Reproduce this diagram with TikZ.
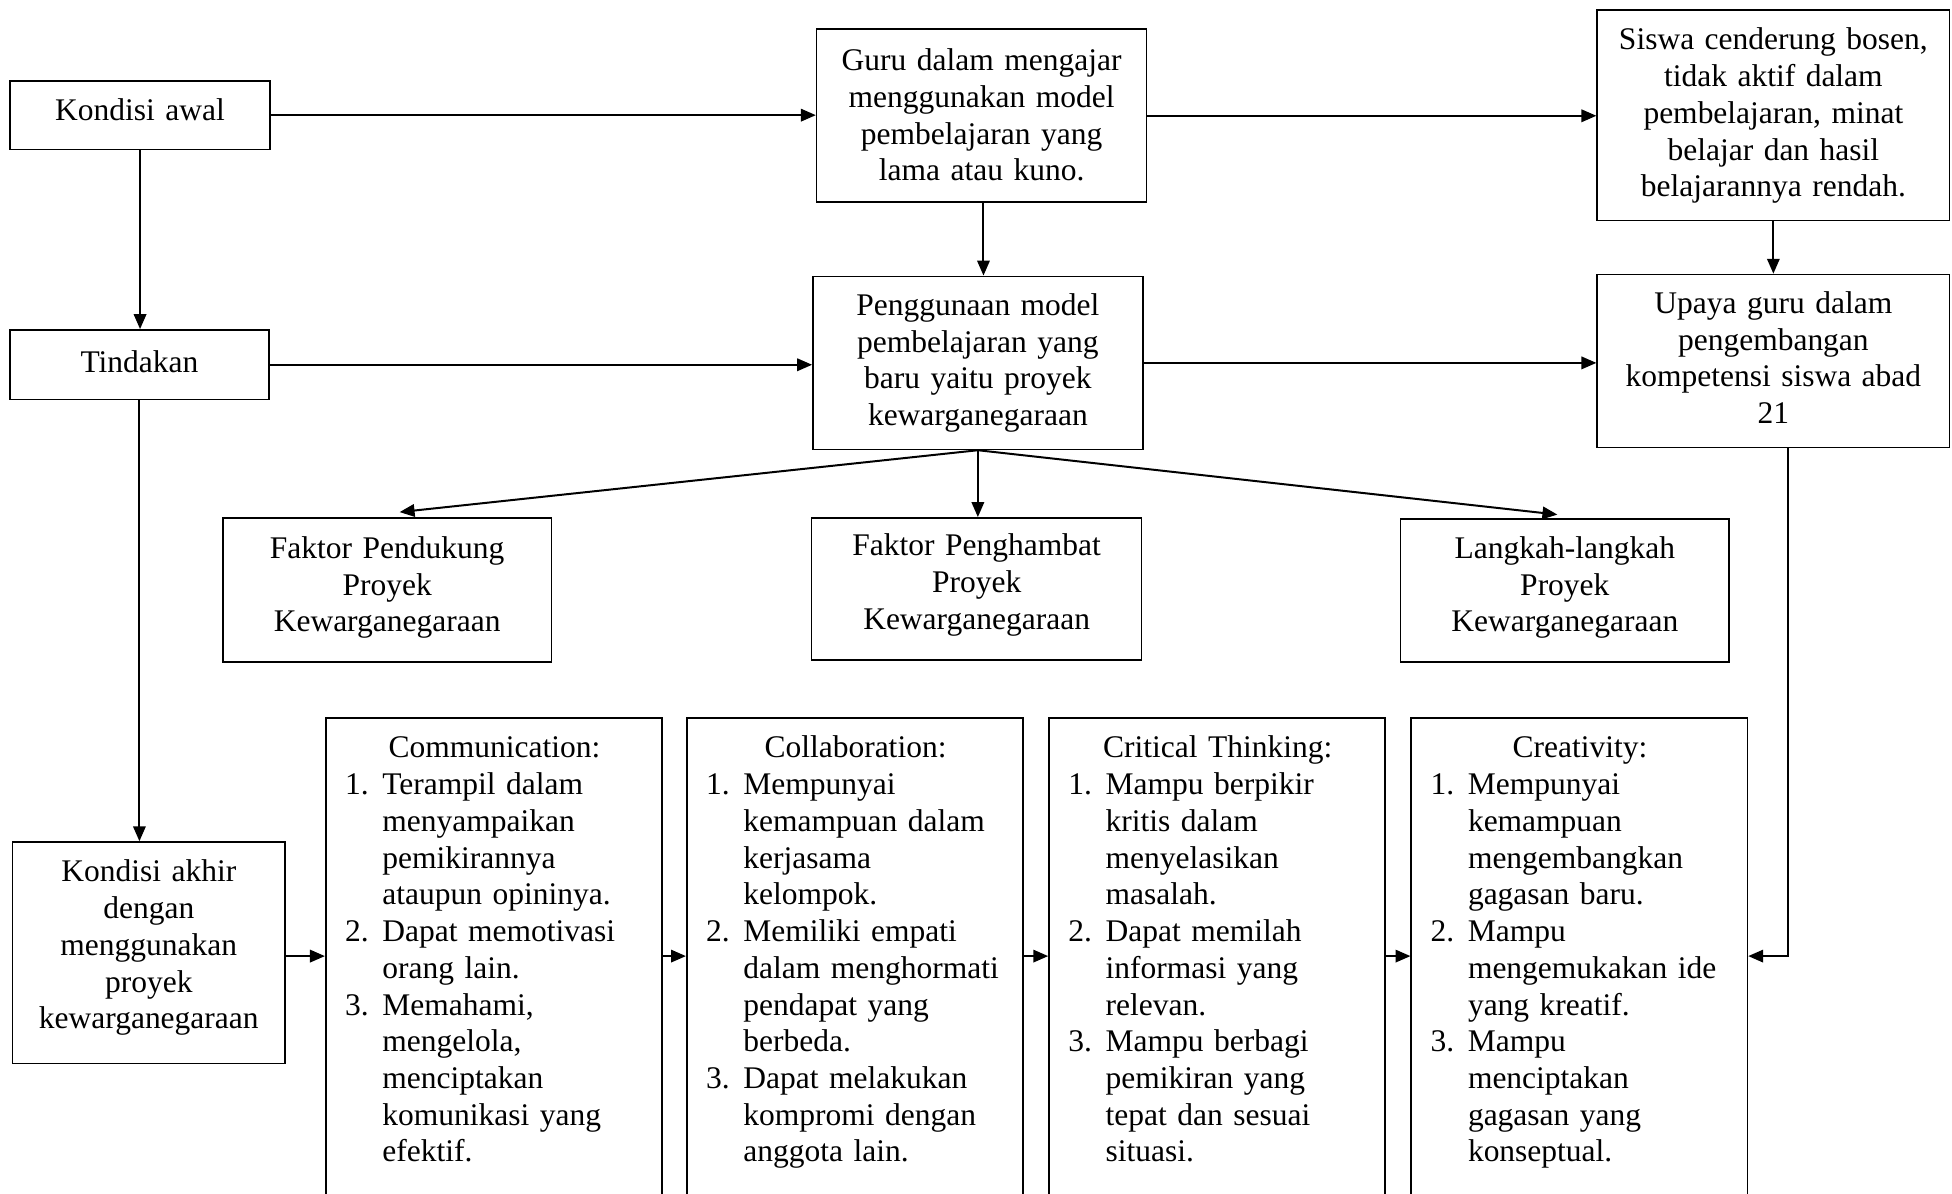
\documentclass[tikz,border=0pt]{standalone}
\usepackage{fontspec}
\setmainfont{Liberation Serif}
\usetikzlibrary{arrows.meta,calc}
\newcommand{\nm}[1]{\makebox[30pt][l]{#1}}
\newcommand{\ind}{\hspace*{30pt}}
\newcommand{\ttl}[1]{\makebox[240pt][c]{#1}}
\begin{document}
\begin{tikzpicture}[x=1pt,y=1pt,
  every node/.style={font=\fontsize{25.3}{29.5}\selectfont},
  box/.style={draw, line width=1.3pt, inner sep=0pt, align=center,
    execute at begin node=\strut, execute at end node={\rule[-#1]{0pt}{0pt}}},
  box/.default=8.85pt,
  tallbox/.style={draw, line width=1.3pt, inner sep=0pt, anchor=north west,
    minimum width=270pt, minimum height=430pt},
  lst/.style={anchor=north west, inner sep=0pt, text width=240pt, align=left,
    execute at begin node=\strut},
  con/.style={line width=1.6pt, -{Triangle[length=12pt,width=10pt]}}
]
\clip (0,0) rectangle (1568,-959);
% top rows
\node[box=11.6pt, minimum width=209pt, minimum height=55pt, text width=200pt] (awal) at (112.5,-92.5) {Kondisi awal};
\node[box=4.6pt, minimum width=265pt, minimum height=139pt, text width=255pt] (guru) at (788.5,-93) {Guru dalam mengajar\\menggunakan model\\pembelajaran yang\\lama atau kuno.};
\node[box=7.8pt, minimum width=283pt, minimum height=169pt, text width=275pt] (siswa) at (1424.5,-92.7) {Siswa cenderung bosen,\\tidak aktif dalam\\pembelajaran, minat\\belajar dan hasil\\belajarannya rendah.};
\node[box=8.6pt, minimum width=208pt, minimum height=56pt, text width=200pt] (tin) at (112,-293) {Tindakan};
\node[box=8.6pt, minimum width=265pt, minimum height=139pt, text width=255pt] (pen) at (785.5,-291.5) {Penggunaan model\\pembelajaran yang\\baru yaitu proyek\\kewarganegaraan};
\node[box=8.6pt, minimum width=283pt, minimum height=139pt, text width=275pt] (up) at (1424.5,-290) {Upaya guru dalam\\pengembangan\\kompetensi siswa abad\\21};
% middle row
\node[box=12.6pt, minimum width=264pt, minimum height=116pt, text width=255pt] (fp) at (311,-474) {Faktor Pendukung\\Proyek\\Kewarganegaraan};
\node[box=14.6pt, minimum width=265pt, minimum height=114pt, text width=255pt] (fh) at (784.5,-473) {Faktor Penghambat\\Proyek\\Kewarganegaraan};
\node[box=13.6pt, minimum width=264pt, minimum height=115pt, text width=255pt] (lk) at (1257,-474.5) {Langkah-langkah\\Proyek\\Kewarganegaraan};
% bottom row
\node[box=16.6pt, minimum width=219pt, minimum height=178pt, text width=215pt] (akhir) at (119.5,-765.4) {Kondisi akhir\\dengan\\menggunakan\\proyek\\kewarganegaraan};
\node[tallbox] (comm) at (261,-576) {};
\node[tallbox] (col) at (551,-576) {};
\node[tallbox] (crit) at (842,-576) {};
\node[tallbox] (cre) at (1133,-576) {};
\node[lst] (commt) at ($(comm.north west)+(16,-12)$) {\ttl{Communication:}\\
\nm{1.}Terampil dalam\\\ind menyampaikan\\\ind pemikirannya\\\ind ataupun opininya.\\
\nm{2.}Dapat memotivasi\\\ind orang lain.\\
\nm{3.}Memahami,\\\ind mengelola,\\\ind menciptakan\\\ind komunikasi yang\\\ind efektif.};
\node[lst] (colt) at ($(col.north west)+(16,-12)$) {\ttl{Collaboration:}\\
\nm{1.}Mempunyai\\\ind kemampuan dalam\\\ind kerjasama\\\ind kelompok.\\
\nm{2.}Memiliki empati\\\ind dalam menghormati\\\ind pendapat yang\\\ind berbeda.\\
\nm{3.}Dapat melakukan\\\ind kompromi dengan\\\ind anggota lain.};
\node[lst] (critt) at ($(crit.north west)+(16,-12)$) {\ttl{Critical Thinking:}\\
\nm{1.}Mampu berpikir\\\ind kritis dalam\\\ind menyelasikan\\\ind masalah.\\
\nm{2.}Dapat memilah\\\ind informasi yang\\\ind relevan.\\
\nm{3.}Mampu berbagi\\\ind pemikiran yang\\\ind tepat dan sesuai\\\ind situasi.};
\node[lst] (cret) at ($(cre.north west)+(16,-12)$) {\ttl{Creativity:}\\
\nm{1.}Mempunyai\\\ind kemampuan\\\ind mengembangkan\\\ind gagasan baru.\\
\nm{2.}Mampu\\\ind mengemukakan ide\\\ind yang kreatif.\\
\nm{3.}Mampu\\\ind menciptakan\\\ind gagasan yang\\\ind konseptual.};
% connectors
\coordinate (row) at (0,-768);
\coordinate (g1) at ($(guru.south)+(1.5,0)$);
\coordinate (u1) at ($(up.south)+(11.5,0)$);
\coordinate (fpin) at ($(fp.north)+(10,4)$);
\coordinate (lkin) at ($(lk.north)+(-6,3)$);
\draw[con] (awal.east) -- (awal.east -| guru.west);
\draw[con] (guru.east) -- (guru.east -| siswa.west);
\draw[con] (awal.south) -- (awal.south |- tin.north);
\draw[con] (g1) -- (g1 |- pen.north);
\draw[con] (siswa.south) -- (siswa.south |- up.north);
\draw[con] (tin.east) -- (tin.east -| pen.west);
\draw[con] (pen.east) -- (pen.east -| up.west);
\draw[con] (pen.south) -- (fpin);
\draw[con] (pen.south) -- (pen.south |- fh.north);
\draw[con] (pen.south) -- (lkin);
\draw[con] (tin.south) -- (tin.south |- akhir.north);
\draw[con] (akhir.east |- row) -- (comm.west |- row);
\draw[con] (comm.east |- row) -- (col.west |- row);
\draw[con] (col.east |- row) -- (crit.west |- row);
\draw[con] (crit.east |- row) -- (cre.west |- row);
\draw[con] (u1) |- (cre.east |- row);
\end{tikzpicture}
\end{document}
